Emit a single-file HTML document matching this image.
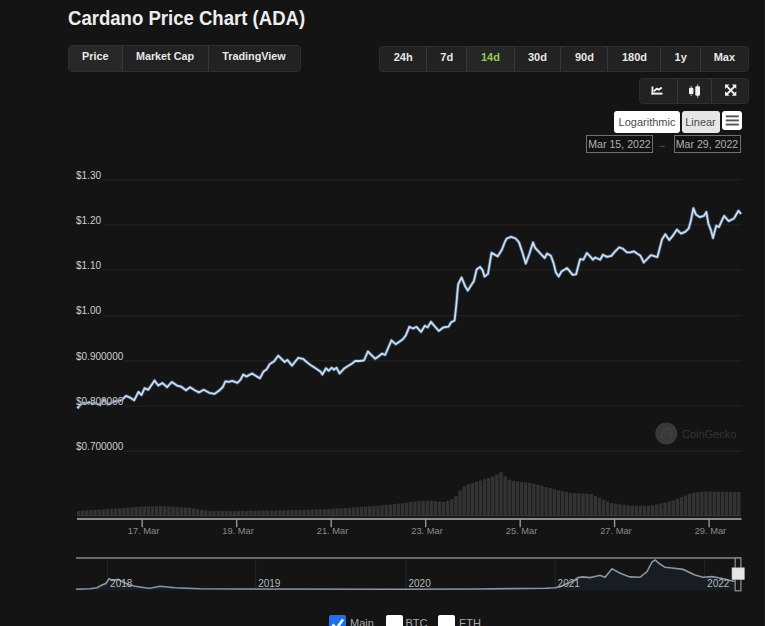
<!DOCTYPE html>
<html><head><meta charset="utf-8">
<style>
*{margin:0;padding:0;box-sizing:border-box;}
html,body{width:765px;height:626px;overflow:hidden;background:#141414;}
body{position:relative;font-family:"Liberation Sans",sans-serif;color:#e6e6e6;}
.title{position:absolute;left:67.5px;top:5.5px;font-size:19.8px;font-weight:bold;color:#ededed;line-height:24px;white-space:nowrap;transform:scaleX(0.938);transform-origin:0 0;}
.grp{position:absolute;display:flex;background:#222;border:1px solid #2e2e2e;border-radius:4px;overflow:hidden;}
.grp .b{height:100%;display:flex;align-items:flex-start;padding-top:4px;justify-content:center;font-weight:bold;color:#e8e8e8;border-left:1px solid #383838;line-height:13px;}
.grp .b:first-child{border-left:none;}
.tabs{left:68px;top:45.3px;width:232.5px;height:26.6px;}
.tabs .b{font-size:10.8px;}
.ranges{left:379.1px;top:45.7px;width:369.7px;height:26.2px;}
.ranges .b{font-size:11px;}
.icons{left:638.5px;top:78px;width:110.5px;height:26px;}
.lg{position:absolute;top:111px;height:21.5px;background:#fff;border-radius:3px;font-size:11px;color:#4a4a4a;display:flex;align-items:center;justify-content:center;}
.date{position:absolute;top:134.8px;height:18px;border:1px solid #707070;font-size:10.6px;color:#b0b0b0;display:flex;align-items:center;justify-content:center;background:#121212;}
svg{position:absolute;left:0;top:0;}
.cb{position:absolute;top:614.7px;width:17px;height:17px;border-radius:2px;}
.lt{position:absolute;top:617px;font-size:11px;color:#a9a9a9;}
</style></head><body>
<div class="title">Cardano Price Chart (ADA)</div>
<div class="grp tabs">
  <div class="b" style="width:52.5px;background:#282828;">Price</div>
  <div class="b" style="width:86px;">Market Cap</div>
  <div class="b" style="flex:1;">TradingView</div>
</div>
<div class="grp ranges">
  <div class="b" style="width:46.1px;">24h</div>
  <div class="b" style="width:40.2px;">7d</div>
  <div class="b" style="width:47.2px;color:#93c868;background:#262626;">14d</div>
  <div class="b" style="width:46.8px;">30d</div>
  <div class="b" style="width:47.1px;">90d</div>
  <div class="b" style="width:53px;">180d</div>
  <div class="b" style="width:39.5px;">1y</div>
  <div class="b" style="flex:1;">Max</div>
</div>
<div class="grp icons">
  <div class="b" style="width:37.3px;"></div>
  <div class="b" style="width:34px;"></div>
  <div class="b" style="flex:1;"></div>
</div>
<div class="lg" style="left:614px;width:66px;">Logarithmic</div>
<div class="lg" style="left:681.5px;width:38px;background:#e6e6e6;">Linear</div>
<div class="lg" style="left:722px;width:20px;height:18.5px;"></div>
<div class="date" style="left:586px;width:67px;">Mar 15, 2022</div>
<div class="date" style="left:673.5px;width:67px;">Mar 29, 2022</div>

<svg width="765" height="626" viewBox="0 0 765 626">
  <!-- icons -->
  <g fill="#f2f2f2">
    <rect x="651.5" y="86.5" width="1.9" height="8"/>
    <rect x="651.5" y="92.6" width="11" height="2"/>
  </g>
  <path d="M653.8 91.2 L656.8 88.6 L658.8 89.8 L661.8 87.4" fill="none" stroke="#f2f2f2" stroke-width="1.9" stroke-linejoin="round"/>
  <g fill="#f2f2f2">
    <rect x="689" y="87.7" width="4.4" height="6.4" rx="1.2"/>
    <rect x="690.6" y="86" width="1.2" height="10" opacity="0.6"/>
    <rect x="695.3" y="86.2" width="4.7" height="9.6" rx="1.2"/>
    <rect x="697.05" y="84.3" width="1.2" height="13.6" opacity="0.6"/>
  </g>
  <g fill="none" stroke="#f2f2f2" stroke-width="1.8">
    <path d="M727 86.5 L734.5 94 M734.5 86.5 L727 94"/>
  </g>
  <g fill="#f2f2f2">
    <path d="M725 84.5 H729.5 L725 89 Z"/>
    <path d="M736.3 84.5 V89 L731.8 84.5 Z"/>
    <path d="M725 95.7 V91.2 L729.5 95.7 Z"/>
    <path d="M736.3 95.7 H731.8 L736.3 91.2 Z"/>
  </g>
  <g fill="#555">
    <rect x="725.8" y="115.4" width="13" height="1.9"/>
    <rect x="725.8" y="119.5" width="13" height="1.9"/>
    <rect x="725.8" y="123.6" width="13" height="1.9"/>
  </g>
  <text x="662" y="148" font-size="9" fill="#666" text-anchor="middle" font-family="Liberation Sans">→</text>

  <!-- grid -->
  <g stroke="#1f1f1f" stroke-width="1.5"><line x1="103" y1="179.5" x2="742" y2="179.5"/><line x1="103" y1="224.8" x2="742" y2="224.8"/><line x1="103" y1="270.1" x2="742" y2="270.1"/><line x1="103" y1="315.4" x2="742" y2="315.4"/><line x1="124" y1="360.7" x2="742" y2="360.7"/><line x1="124" y1="406.0" x2="742" y2="406.0"/><line x1="124" y1="451.3" x2="742" y2="451.3"/></g>

  <!-- watermark -->
  <circle cx="666.3" cy="433.5" r="11" fill="#393939"/><path d="M661 438 Q663 429 668 428 Q672 430 671 436" fill="none" stroke="#444" stroke-width="1.2"/>
  <text x="682" y="437.5" font-family="Liberation Sans" font-size="11" fill="#353535">CoinGecko</text>

  <!-- volume -->
  <g fill="#333"><rect x="77.00" y="510.9" width="3.40" height="4.6"/><rect x="81.10" y="510.6" width="3.40" height="4.9"/><rect x="85.20" y="510.4" width="3.40" height="5.1"/><rect x="89.30" y="510.1" width="3.40" height="5.4"/><rect x="93.40" y="509.9" width="3.40" height="5.6"/><rect x="97.50" y="509.6" width="3.40" height="5.9"/><rect x="101.60" y="509.4" width="3.40" height="6.1"/><rect x="105.70" y="509.1" width="3.40" height="6.4"/><rect x="109.80" y="508.9" width="3.40" height="6.6"/><rect x="113.90" y="508.5" width="3.40" height="7.0"/><rect x="118.00" y="508.2" width="3.40" height="7.3"/><rect x="122.10" y="507.9" width="3.40" height="7.6"/><rect x="126.20" y="507.6" width="3.40" height="7.9"/><rect x="130.30" y="507.3" width="3.40" height="8.2"/><rect x="134.40" y="507.0" width="3.40" height="8.5"/><rect x="138.50" y="506.7" width="3.40" height="8.8"/><rect x="142.60" y="506.5" width="3.40" height="9.0"/><rect x="146.70" y="506.4" width="3.40" height="9.1"/><rect x="150.80" y="506.3" width="3.40" height="9.2"/><rect x="154.90" y="506.1" width="3.40" height="9.4"/><rect x="159.00" y="506.1" width="3.40" height="9.4"/><rect x="163.10" y="506.3" width="3.40" height="9.2"/><rect x="167.20" y="506.6" width="3.40" height="8.9"/><rect x="171.30" y="506.8" width="3.40" height="8.7"/><rect x="175.40" y="507.0" width="3.40" height="8.5"/><rect x="179.50" y="507.3" width="3.40" height="8.2"/><rect x="183.60" y="507.5" width="3.40" height="8.0"/><rect x="187.70" y="507.8" width="3.40" height="7.7"/><rect x="191.80" y="508.4" width="3.40" height="7.1"/><rect x="195.90" y="509.1" width="3.40" height="6.4"/><rect x="200.00" y="509.7" width="3.40" height="5.8"/><rect x="204.10" y="510.4" width="3.40" height="5.1"/><rect x="208.20" y="511.0" width="3.40" height="4.5"/><rect x="212.30" y="511.0" width="3.40" height="4.5"/><rect x="216.40" y="511.0" width="3.40" height="4.5"/><rect x="220.50" y="511.0" width="3.40" height="4.5"/><rect x="224.60" y="511.0" width="3.40" height="4.5"/><rect x="228.70" y="511.0" width="3.40" height="4.5"/><rect x="232.80" y="511.0" width="3.40" height="4.5"/><rect x="236.90" y="511.0" width="3.40" height="4.5"/><rect x="241.00" y="510.9" width="3.40" height="4.6"/><rect x="245.10" y="510.9" width="3.40" height="4.6"/><rect x="249.20" y="510.8" width="3.40" height="4.7"/><rect x="253.30" y="510.7" width="3.40" height="4.8"/><rect x="257.40" y="510.7" width="3.40" height="4.8"/><rect x="261.50" y="510.6" width="3.40" height="4.9"/><rect x="265.60" y="510.5" width="3.40" height="5.0"/><rect x="269.70" y="510.5" width="3.40" height="5.0"/><rect x="273.80" y="510.4" width="3.40" height="5.1"/><rect x="277.90" y="510.3" width="3.40" height="5.2"/><rect x="282.00" y="510.3" width="3.40" height="5.2"/><rect x="286.10" y="510.2" width="3.40" height="5.3"/><rect x="290.20" y="510.1" width="3.40" height="5.4"/><rect x="294.30" y="510.1" width="3.40" height="5.4"/><rect x="298.40" y="510.0" width="3.40" height="5.5"/><rect x="302.50" y="509.8" width="3.40" height="5.7"/><rect x="306.60" y="509.7" width="3.40" height="5.8"/><rect x="310.70" y="509.6" width="3.40" height="5.9"/><rect x="314.80" y="509.4" width="3.40" height="6.1"/><rect x="318.90" y="509.3" width="3.40" height="6.2"/><rect x="323.00" y="509.2" width="3.40" height="6.3"/><rect x="327.10" y="509.0" width="3.40" height="6.5"/><rect x="331.20" y="508.8" width="3.40" height="6.7"/><rect x="335.30" y="508.5" width="3.40" height="7.0"/><rect x="339.40" y="508.2" width="3.40" height="7.3"/><rect x="343.50" y="508.0" width="3.40" height="7.5"/><rect x="347.60" y="507.7" width="3.40" height="7.8"/><rect x="351.70" y="507.4" width="3.40" height="8.1"/><rect x="355.80" y="507.1" width="3.40" height="8.4"/><rect x="359.90" y="506.9" width="3.40" height="8.6"/><rect x="364.00" y="506.6" width="3.40" height="8.9"/><rect x="368.10" y="506.3" width="3.40" height="9.2"/><rect x="372.20" y="506.1" width="3.40" height="9.4"/><rect x="376.30" y="505.8" width="3.40" height="9.7"/><rect x="380.40" y="505.4" width="3.40" height="10.1"/><rect x="384.50" y="505.0" width="3.40" height="10.5"/><rect x="388.60" y="504.5" width="3.40" height="11.0"/><rect x="392.70" y="504.1" width="3.40" height="11.4"/><rect x="396.80" y="503.6" width="3.40" height="11.9"/><rect x="400.90" y="503.1" width="3.40" height="12.4"/><rect x="405.00" y="502.6" width="3.40" height="12.9"/><rect x="409.10" y="502.1" width="3.40" height="13.4"/><rect x="413.20" y="501.6" width="3.40" height="13.9"/><rect x="417.30" y="501.1" width="3.40" height="14.4"/><rect x="421.40" y="500.9" width="3.40" height="14.6"/><rect x="425.50" y="500.8" width="3.40" height="14.7"/><rect x="429.60" y="500.8" width="3.40" height="14.7"/><rect x="433.70" y="501.2" width="3.40" height="14.3"/><rect x="437.80" y="501.6" width="3.40" height="13.9"/><rect x="441.90" y="501.9" width="3.40" height="13.6"/><rect x="446.00" y="500.8" width="3.40" height="14.7"/><rect x="450.10" y="499.1" width="3.40" height="16.4"/><rect x="454.20" y="495.9" width="3.40" height="19.6"/><rect x="458.30" y="490.5" width="3.40" height="25.0"/><rect x="462.40" y="486.1" width="3.40" height="29.4"/><rect x="466.50" y="484.4" width="3.40" height="31.1"/><rect x="470.60" y="483.1" width="3.40" height="32.4"/><rect x="474.70" y="481.8" width="3.40" height="33.7"/><rect x="478.80" y="480.5" width="3.40" height="35.0"/><rect x="482.90" y="479.2" width="3.40" height="36.3"/><rect x="487.00" y="477.9" width="3.40" height="37.6"/><rect x="491.10" y="476.4" width="3.40" height="39.1"/><rect x="495.20" y="474.4" width="3.40" height="41.1"/><rect x="499.30" y="472.2" width="3.40" height="43.3"/><rect x="503.40" y="476.4" width="3.40" height="39.1"/><rect x="507.50" y="479.7" width="3.40" height="35.8"/><rect x="511.60" y="480.9" width="3.40" height="34.6"/><rect x="515.70" y="481.4" width="3.40" height="34.1"/><rect x="519.80" y="481.9" width="3.40" height="33.6"/><rect x="523.90" y="482.4" width="3.40" height="33.1"/><rect x="528.00" y="482.9" width="3.40" height="32.6"/><rect x="532.10" y="483.8" width="3.40" height="31.7"/><rect x="536.20" y="484.9" width="3.40" height="30.6"/><rect x="540.30" y="486.0" width="3.40" height="29.5"/><rect x="544.40" y="487.1" width="3.40" height="28.4"/><rect x="548.50" y="488.2" width="3.40" height="27.3"/><rect x="552.60" y="489.2" width="3.40" height="26.3"/><rect x="556.70" y="490.2" width="3.40" height="25.3"/><rect x="560.80" y="491.2" width="3.40" height="24.3"/><rect x="564.90" y="492.1" width="3.40" height="23.4"/><rect x="569.00" y="493.0" width="3.40" height="22.5"/><rect x="573.10" y="493.2" width="3.40" height="22.3"/><rect x="577.20" y="493.4" width="3.40" height="22.1"/><rect x="581.30" y="493.6" width="3.40" height="21.9"/><rect x="585.40" y="493.8" width="3.40" height="21.7"/><rect x="589.50" y="494.2" width="3.40" height="21.3"/><rect x="593.60" y="496.0" width="3.40" height="19.5"/><rect x="597.70" y="497.8" width="3.40" height="17.7"/><rect x="601.80" y="499.6" width="3.40" height="15.9"/><rect x="605.90" y="501.4" width="3.40" height="14.1"/><rect x="610.00" y="503.1" width="3.40" height="12.4"/><rect x="614.10" y="503.6" width="3.40" height="11.9"/><rect x="618.20" y="504.2" width="3.40" height="11.3"/><rect x="622.30" y="504.7" width="3.40" height="10.8"/><rect x="626.40" y="505.3" width="3.40" height="10.2"/><rect x="630.50" y="505.7" width="3.40" height="9.8"/><rect x="634.60" y="505.7" width="3.40" height="9.8"/><rect x="638.70" y="505.7" width="3.40" height="9.8"/><rect x="642.80" y="505.7" width="3.40" height="9.8"/><rect x="646.90" y="505.7" width="3.40" height="9.8"/><rect x="651.00" y="505.4" width="3.40" height="10.1"/><rect x="655.10" y="504.4" width="3.40" height="11.1"/><rect x="659.20" y="503.4" width="3.40" height="12.1"/><rect x="663.30" y="502.4" width="3.40" height="13.1"/><rect x="667.40" y="501.4" width="3.40" height="14.1"/><rect x="671.50" y="500.3" width="3.40" height="15.2"/><rect x="675.60" y="498.7" width="3.40" height="16.8"/><rect x="679.70" y="497.1" width="3.40" height="18.4"/><rect x="683.80" y="495.5" width="3.40" height="20.0"/><rect x="687.90" y="494.0" width="3.40" height="21.5"/><rect x="692.00" y="492.8" width="3.40" height="22.7"/><rect x="696.10" y="492.2" width="3.40" height="23.3"/><rect x="700.20" y="491.6" width="3.40" height="23.9"/><rect x="704.30" y="491.5" width="3.40" height="24.0"/><rect x="708.40" y="491.6" width="3.40" height="23.9"/><rect x="712.50" y="491.7" width="3.40" height="23.8"/><rect x="716.60" y="491.7" width="3.40" height="23.8"/><rect x="720.70" y="491.8" width="3.40" height="23.7"/><rect x="724.80" y="491.8" width="3.40" height="23.7"/><rect x="728.90" y="491.9" width="3.40" height="23.6"/><rect x="733.00" y="491.9" width="3.40" height="23.6"/><rect x="737.10" y="492.0" width="3.40" height="23.5"/></g>
  <rect x="77" y="515" width="664" height="1" fill="#383838"/>
  <rect x="77" y="516" width="664" height="2" fill="#1a1a1a"/>
  <rect x="77" y="518" width="664.5" height="2" fill="#8a8a8a"/>
  <g stroke="#a0a0a0" stroke-width="1.3"><line x1="142.2" y1="519" x2="142.2" y2="527.2"/><line x1="236.7" y1="519" x2="236.7" y2="527.2"/><line x1="331.2" y1="519" x2="331.2" y2="527.2"/><line x1="425.7" y1="519" x2="425.7" y2="527.2"/><line x1="520.2" y1="519" x2="520.2" y2="527.2"/><line x1="614.6" y1="519" x2="614.6" y2="527.2"/><line x1="709.1" y1="519" x2="709.1" y2="527.2"/></g>
  <g font-family="Liberation Sans" font-size="9.3" fill="#8a8a8a" text-anchor="middle"><text x="143.5" y="534">17. Mar</text><text x="238.0" y="534">19. Mar</text><text x="332.5" y="534">21. Mar</text><text x="427.0" y="534">23. Mar</text><text x="521.5" y="534">25. Mar</text><text x="615.9" y="534">27. Mar</text><text x="710.4" y="534">29. Mar</text></g>

  <!-- price line -->
  <path d="M77.4 408.4 L80.1 404.9 L82.8 403.0 L86.8 403.3 L89.1 402.2 L91.9 403.7 L95.0 403.0 L100.0 405.0 L104.0 399.5 L107.9 404.5 L109.5 403.7 L114.2 401.4 L119.0 401.0 L122.0 399.8 L126.0 395.9 L130.0 397.6 L134.2 400.3 L138.4 391.9 L141.5 395.0 L144.6 388.2 L148.3 389.8 L154.6 380.4 L158.2 385.6 L162.4 383.0 L167.1 387.2 L171.8 382.0 L177.0 385.6 L181.2 386.7 L186.0 390.3 L190.1 387.2 L194.8 390.3 L199.0 392.4 L203.7 389.8 L209.2 392.8 L214.4 393.9 L219.6 390.2 L222.8 387.0 L225.4 381.3 L229.0 381.8 L232.2 380.8 L237.4 382.9 L240.6 379.7 L243.2 374.5 L246.3 376.6 L252.0 373.5 L256.2 376.1 L259.9 378.2 L263.6 371.4 L266.7 369.3 L269.8 364.0 L274.0 361.4 L278.2 355.7 L284.7 362.0 L287.3 359.9 L292.0 365.6 L298.3 357.8 L303.0 358.8 L307.2 362.5 L311.4 365.6 L315.6 368.2 L320.3 371.4 L322.4 374.5 L326.0 368.2 L328.6 370.8 L331.8 367.7 L333.9 369.8 L336.5 367.7 L339.6 373.5 L343.8 368.8 L348.0 366.1 L352.2 363.5 L355.3 360.9 L359.5 361.0 L364.0 360.4 L367.9 351.5 L371.2 354.8 L375.1 358.7 L378.5 356.5 L381.8 353.7 L385.2 354.8 L388.6 347.0 L391.4 340.3 L395.8 344.2 L399.7 341.4 L403.1 339.1 L405.9 335.2 L409.3 326.8 L413.2 328.5 L416.5 326.8 L421.0 331.9 L424.9 325.7 L427.7 327.4 L431.0 321.8 L433.5 324.9 L438.8 331.0 L443.2 327.5 L448.5 326.7 L451.1 322.3 L454.6 320.5 L456.4 303.8 L458.1 284.5 L461.6 277.5 L465.1 286.2 L467.8 290.6 L473.9 281.0 L476.6 269.5 L480.1 266.9 L482.7 270.4 L484.5 276.6 L488.0 273.9 L491.5 252.8 L497.7 256.4 L502.1 249.3 L504.7 242.3 L506.7 238.5 L511.2 236.8 L515.7 238.5 L519.0 242.4 L522.4 252.4 L525.7 263.6 L529.1 254.7 L533.0 242.4 L535.2 248.0 L538.0 250.8 L541.4 254.7 L544.7 258.0 L547.0 253.6 L550.9 255.8 L553.7 263.6 L555.9 272.6 L558.7 276.5 L561.5 271.5 L567.1 268.1 L572.7 274.8 L576.1 274.3 L580.1 259.1 L583.4 259.7 L586.8 253.0 L589.6 255.8 L592.9 259.7 L595.2 257.5 L600.2 259.7 L603.0 254.7 L606.9 256.9 L611.4 255.8 L614.7 251.9 L619.2 247.4 L622.6 248.5 L627.0 252.4 L630.4 252.4 L633.8 251.3 L637.1 253.6 L640.5 255.8 L643.8 262.5 L650.9 255.1 L657.4 257.1 L662.0 239.4 L665.3 234.2 L669.2 240.1 L672.5 236.2 L677.0 229.6 L681.0 233.6 L685.5 231.6 L688.8 228.3 L690.8 221.1 L693.4 208.1 L696.0 214.6 L699.9 217.2 L703.8 215.9 L706.4 212.0 L708.4 223.8 L711.0 230.3 L713.0 238.1 L716.2 225.7 L718.9 227.0 L724.1 215.9 L728.7 221.1 L733.9 218.5 L738.5 210.7 L741.0 214.0" fill="none" stroke="#6a9cd0" stroke-width="3.4" stroke-opacity="0.45" stroke-linejoin="round"/>
  <path d="M77.4 408.4 L80.1 404.9 L82.8 403.0 L86.8 403.3 L89.1 402.2 L91.9 403.7 L95.0 403.0 L100.0 405.0 L104.0 399.5 L107.9 404.5 L109.5 403.7 L114.2 401.4 L119.0 401.0 L122.0 399.8 L126.0 395.9 L130.0 397.6 L134.2 400.3 L138.4 391.9 L141.5 395.0 L144.6 388.2 L148.3 389.8 L154.6 380.4 L158.2 385.6 L162.4 383.0 L167.1 387.2 L171.8 382.0 L177.0 385.6 L181.2 386.7 L186.0 390.3 L190.1 387.2 L194.8 390.3 L199.0 392.4 L203.7 389.8 L209.2 392.8 L214.4 393.9 L219.6 390.2 L222.8 387.0 L225.4 381.3 L229.0 381.8 L232.2 380.8 L237.4 382.9 L240.6 379.7 L243.2 374.5 L246.3 376.6 L252.0 373.5 L256.2 376.1 L259.9 378.2 L263.6 371.4 L266.7 369.3 L269.8 364.0 L274.0 361.4 L278.2 355.7 L284.7 362.0 L287.3 359.9 L292.0 365.6 L298.3 357.8 L303.0 358.8 L307.2 362.5 L311.4 365.6 L315.6 368.2 L320.3 371.4 L322.4 374.5 L326.0 368.2 L328.6 370.8 L331.8 367.7 L333.9 369.8 L336.5 367.7 L339.6 373.5 L343.8 368.8 L348.0 366.1 L352.2 363.5 L355.3 360.9 L359.5 361.0 L364.0 360.4 L367.9 351.5 L371.2 354.8 L375.1 358.7 L378.5 356.5 L381.8 353.7 L385.2 354.8 L388.6 347.0 L391.4 340.3 L395.8 344.2 L399.7 341.4 L403.1 339.1 L405.9 335.2 L409.3 326.8 L413.2 328.5 L416.5 326.8 L421.0 331.9 L424.9 325.7 L427.7 327.4 L431.0 321.8 L433.5 324.9 L438.8 331.0 L443.2 327.5 L448.5 326.7 L451.1 322.3 L454.6 320.5 L456.4 303.8 L458.1 284.5 L461.6 277.5 L465.1 286.2 L467.8 290.6 L473.9 281.0 L476.6 269.5 L480.1 266.9 L482.7 270.4 L484.5 276.6 L488.0 273.9 L491.5 252.8 L497.7 256.4 L502.1 249.3 L504.7 242.3 L506.7 238.5 L511.2 236.8 L515.7 238.5 L519.0 242.4 L522.4 252.4 L525.7 263.6 L529.1 254.7 L533.0 242.4 L535.2 248.0 L538.0 250.8 L541.4 254.7 L544.7 258.0 L547.0 253.6 L550.9 255.8 L553.7 263.6 L555.9 272.6 L558.7 276.5 L561.5 271.5 L567.1 268.1 L572.7 274.8 L576.1 274.3 L580.1 259.1 L583.4 259.7 L586.8 253.0 L589.6 255.8 L592.9 259.7 L595.2 257.5 L600.2 259.7 L603.0 254.7 L606.9 256.9 L611.4 255.8 L614.7 251.9 L619.2 247.4 L622.6 248.5 L627.0 252.4 L630.4 252.4 L633.8 251.3 L637.1 253.6 L640.5 255.8 L643.8 262.5 L650.9 255.1 L657.4 257.1 L662.0 239.4 L665.3 234.2 L669.2 240.1 L672.5 236.2 L677.0 229.6 L681.0 233.6 L685.5 231.6 L688.8 228.3 L690.8 221.1 L693.4 208.1 L696.0 214.6 L699.9 217.2 L703.8 215.9 L706.4 212.0 L708.4 223.8 L711.0 230.3 L713.0 238.1 L716.2 225.7 L718.9 227.0 L724.1 215.9 L728.7 221.1 L733.9 218.5 L738.5 210.7 L741.0 214.0" fill="none" stroke="#cadcf1" stroke-width="1.8" stroke-linejoin="round"/>

  <g font-family="Liberation Sans" font-size="10" fill="#cfcfcf" stroke="#141414" stroke-width="1" stroke-opacity="0.6" paint-order="stroke" stroke-linejoin="round"><text x="76" y="178.5">$1.30</text><text x="76" y="223.8">$1.20</text><text x="76" y="269.1">$1.10</text><text x="76" y="314.4">$1.00</text><text x="76" y="359.7">$0.900000</text><text x="76" y="405.0">$0.800000</text><text x="76" y="450.3">$0.700000</text></g>
  <!-- navigator -->
  <g stroke="#262626" stroke-width="1"><line x1="107.6" y1="558" x2="107.6" y2="590"/><line x1="255.7" y1="558" x2="255.7" y2="590"/><line x1="406.0" y1="558" x2="406.0" y2="590"/><line x1="555.1" y1="558" x2="555.1" y2="590"/><line x1="704.6" y1="558" x2="704.6" y2="590"/></g>
  <path d="M76.0 589.3 L90.0 588.8 L97.0 587.7 L102.0 585.1 L106.0 583.5 L109.0 578.8 L113.0 580.4 L118.0 579.4 L125.0 583.0 L130.0 585.0 L135.0 586.2 L145.0 587.7 L150.0 588.3 L160.0 586.2 L175.0 587.8 L200.0 588.8 L240.0 589.0 L400.0 589.2 L480.0 589.0 L545.0 588.2 L555.0 587.8 L560.0 586.7 L567.0 583.5 L573.0 581.2 L578.0 577.6 L583.0 576.9 L590.0 577.6 L595.0 576.5 L600.0 575.3 L605.0 577.3 L612.0 568.7 L618.0 572.0 L622.0 574.0 L630.0 576.9 L640.0 577.3 L647.0 571.6 L652.0 562.0 L655.0 560.0 L660.0 564.0 L665.0 567.3 L672.0 568.0 L683.0 569.4 L695.0 575.0 L703.0 577.3 L712.0 576.6 L720.0 578.0 L728.0 580.0 L735.0 581.5 L735 590 L76 590 Z" fill="#181d23"/>
  <path d="M76.0 589.3 L90.0 588.8 L97.0 587.7 L102.0 585.1 L106.0 583.5 L109.0 578.8 L113.0 580.4 L118.0 579.4 L125.0 583.0 L130.0 585.0 L135.0 586.2 L145.0 587.7 L150.0 588.3 L160.0 586.2 L175.0 587.8 L200.0 588.8 L240.0 589.0 L400.0 589.2 L480.0 589.0 L545.0 588.2 L555.0 587.8 L560.0 586.7 L567.0 583.5 L573.0 581.2 L578.0 577.6 L583.0 576.9 L590.0 577.6 L595.0 576.5 L600.0 575.3 L605.0 577.3 L612.0 568.7 L618.0 572.0 L622.0 574.0 L630.0 576.9 L640.0 577.3 L647.0 571.6 L652.0 562.0 L655.0 560.0 L660.0 564.0 L665.0 567.3 L672.0 568.0 L683.0 569.4 L695.0 575.0 L703.0 577.3 L712.0 576.6 L720.0 578.0 L728.0 580.0 L735.0 581.5" fill="none" stroke="#8a96a2" stroke-width="1.6"/>
  <g font-family="Liberation Sans" font-size="10" fill="#b8b8b8"><text x="110.1" y="587">2018</text><text x="258.2" y="587">2019</text><text x="408.5" y="587">2020</text><text x="557.6" y="587">2021</text><text x="707.1" y="587">2022</text></g>
  <path d="M76 558 H741" fill="none" stroke="#6a6a6a" stroke-width="2"/>
  <rect x="735.2" y="558" width="5.7" height="32.8" fill="#161616" stroke="#8a8a8a" stroke-width="1.3"/>
  <rect x="732" y="567.8" width="12.3" height="11.8" fill="#e6e6e6" stroke="#bbb" stroke-width="0.6"/>
</svg>

<div class="cb" style="left:328.8px;background:#1f6fee;"></div>
<svg width="765" height="626" style="position:absolute;left:0;top:0;"><path d="M332.5 624.5 L336.5 628.5 L343 619.5" fill="none" stroke="#eaffff" stroke-width="2.6"/></svg>
<div class="lt" style="left:350px;">Main</div>
<div class="cb" style="left:385.8px;background:#fff;"></div>
<div class="lt" style="left:405.5px;">BTC</div>
<div class="cb" style="left:438.3px;background:#fff;"></div>
<div class="lt" style="left:459px;">ETH</div>
<div style="position:absolute;left:761.5px;top:0;width:2px;height:626px;background:#111;"></div><div style="position:absolute;left:763.5px;top:0;width:1.5px;height:626px;background:#1e1e1e;"></div>
</body></html>
